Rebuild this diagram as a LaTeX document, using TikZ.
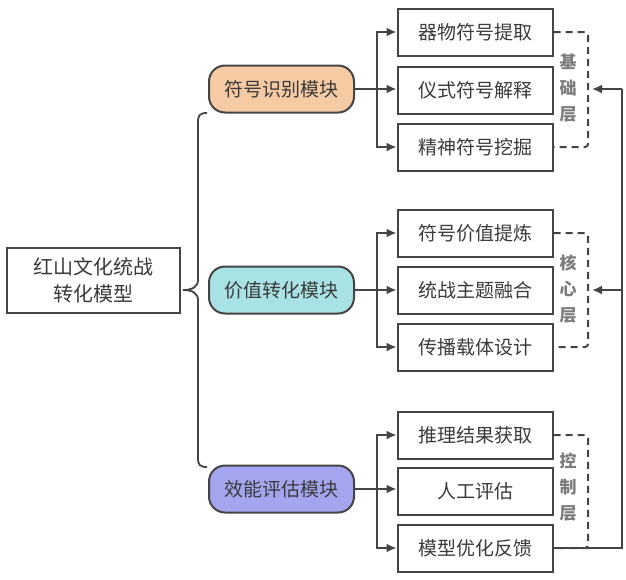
\documentclass[tikz,border=0pt]{standalone}
\usepackage{fontspec}
\setmainfont{Noto Sans CJK SC}
\usetikzlibrary{arrows.meta,positioning}
\definecolor{linegray}{HTML}{444444}
\definecolor{txtgray}{HTML}{3A3A3A}
\definecolor{laygray}{HTML}{7C7C7C}
\definecolor{symfill}{HTML}{F6CBA3}
\definecolor{valfill}{HTML}{A9E2E4}
\definecolor{efffill}{HTML}{A3A6EE}
\tikzset{
	subbox/.style={draw=linegray,line width=2pt,minimum width=155pt,minimum height=47pt,inner sep=0pt,text=txtgray,font=\fontsize{19}{22}\selectfont},
	modbox/.style={draw=linegray,line width=2pt,rounded corners=16pt,minimum width=145pt,minimum height=47pt,inner sep=0pt,text=txtgray,font=\fontsize{19}{22}\selectfont},
	layertxt/.style={text=laygray,align=center,font=\fontsize{17}{26}\selectfont\bfseries},
	arr/.style={draw=linegray,line width=1.8pt,-{Latex[length=10pt,width=9pt]}},
	dashbr/.style={draw=linegray,line width=2pt,dash pattern=on 7pt off 5pt,rounded corners=3pt},
}
\begin{document}
\begin{tikzpicture}[x=1pt,y=-1pt]
	\useasboundingbox (0,0) rectangle (626,579);
	% root and brace
	\node[draw=linegray,line width=2pt,minimum width=173pt,minimum height=65pt,align=center,text=txtgray,font=\fontsize{20}{27}\selectfont] (root) at (93.5,280) {红山文化统战\\转化模型};
	\coordinate (tip) at (183,290);
	\draw[draw=linegray,line width=1.8pt] (207,113) .. controls (200,113) and (198,115) .. (198,122) -- (198,280) .. controls (198,287) and (192,290) .. (tip) .. controls (192,290) and (198,293) .. (198,300) -- (198,458) .. controls (198,465) and (200,467) .. (207,467);
	% modules
	\node[modbox,fill=symfill] (sym) at (281.5,89) {符号识别模块};
	\node[modbox,fill=valfill] (val) at (281.5,290) {价值转化模块};
	\node[modbox,fill=efffill] (eff) at (281.5,489) {效能评估模块};
	% sub boxes
	\node[subbox] (s11) at (475,32) {器物符号提取};
	\node[subbox] (s12) at (475,90) {仪式符号解释};
	\node[subbox] (s13) at (475,147) {精神符号挖掘};
	\node[subbox] (s21) at (475,233) {符号价值提炼};
	\node[subbox] (s22) at (475,290) {统战主题融合};
	\node[subbox] (s23) at (475,347) {传播载体设计};
	\node[subbox] (s31) at (475,435) {推理结果获取};
	\node[subbox] (s32) at (475,491) {人工评估};
	\node[subbox] (s33) at (475,548) {模型优化反馈};
	% module -> sub boxes
	\coordinate (j1) at (377,89);
	\coordinate (j2) at (377,290);
	\coordinate (j3) at (377,489);
	\draw[arr] (sym.east) -- (s12.west |- sym.east);
	\draw[arr] (j1) |- (s11.west);
	\draw[arr] (j1) |- (s13.west);
	\draw[arr] (val.east) -- (s22.west |- val.east);
	\draw[arr] (j2) |- (s21.west);
	\draw[arr] (j2) |- (s23.west);
	\draw[arr] (eff.east) -- (s32.west |- eff.east);
	\draw[arr] (j3) |- (s31.west);
	\draw[arr] (j3) |- (s33.west);
	% layers
	\draw[dashbr] (s11.east) -- (588,32) -- (588,147) -- (s13.east);
	\draw[dashbr] (s21.east) -- (588,233) -- (588,347) -- (s23.east);
	\draw[dashbr] (s31.east) -- (588,435) -- (588,548) -- (s33.east);
	\node[layertxt] (lay1) at (568,88) {基\\础\\层};
	\node[layertxt] (lay2) at (568,289) {核\\心\\层};
	\node[layertxt] (lay3) at (568,487) {控\\制\\层};
	% feedback
	\coordinate (fbd) at (622,548);
	\coordinate (fbu) at (622,89);
	\coordinate (fbm) at (622,290);
	\draw[draw=linegray,line width=1.8pt] (s33.east) -- (fbd) -- (fbu);
	\draw[arr] (fbu) -- (592,89);
	\draw[arr] (fbm) -- (592,290);
\end{tikzpicture}
\end{document}
